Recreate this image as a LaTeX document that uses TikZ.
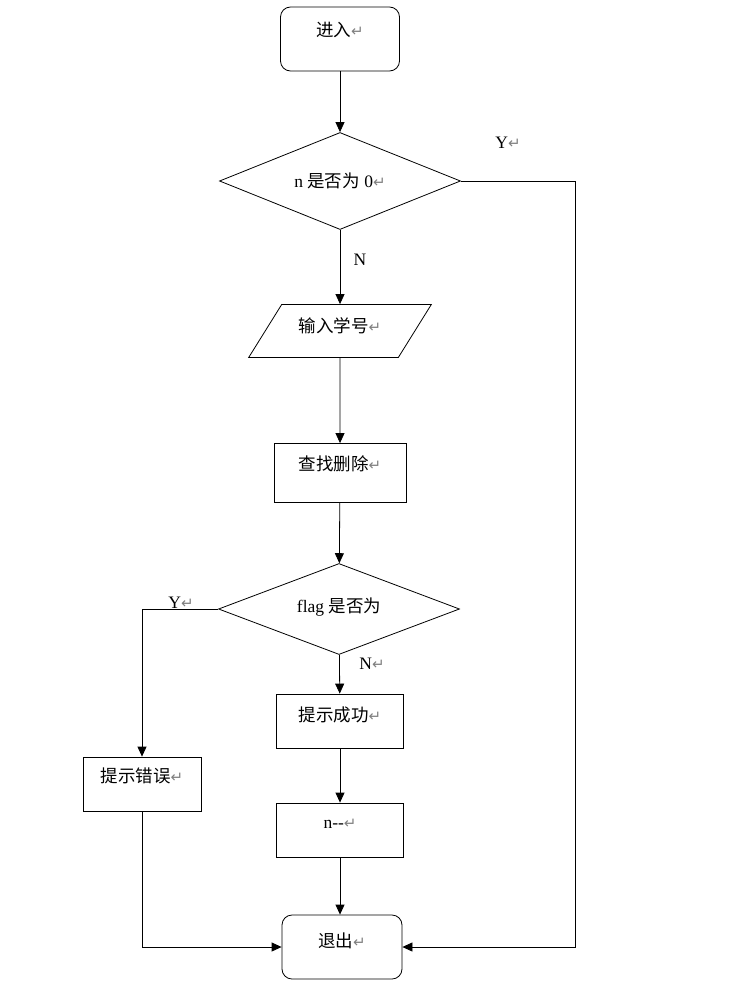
\documentclass[tikz,border=0pt]{standalone}
\usepackage{fontspec}
\setmainfont{Liberation Serif}
\newfontfamily\cjk{Noto Sans CJK SC}
\newfontfamily\symfont{DejaVu Sans}
\usetikzlibrary{shapes.geometric,arrows.meta,positioning}
\newcommand{\pmark}{{\symfont\fontsize{15}{15}\selectfont\textcolor{gray}{↵}}}

\begin{document}
\begin{tikzpicture}[x=1pt, y=-1pt, line width=0.8pt, font=\fontsize{17.5}{20}\selectfont,
  term/.style={rectangle, draw, rounded corners=10pt, minimum width=119pt, minimum height=64pt},
  proc/.style={rectangle, draw, minimum width=127pt, minimum height=54pt},
  test/.style={diamond, draw, shape aspect=2.5, minimum width=241pt, minimum height=97pt, inner sep=0pt},
  io/.style={trapezium, draw, trapezium left angle=53, trapezium right angle=127, trapezium stretches=true, minimum width=183pt, minimum height=53pt},
  flow/.style={-{Triangle[length=10pt,width=9pt]}},
  yn/.style={inner sep=0pt}]
  \useasboundingbox (0,0) rectangle (740,990);
  \node[term, text depth=20pt] (enter) at (340,39) {{\cjk 进入}\pmark};
  \node[test] (test0) at (340,181) {n {\cjk 是否为} 0\pmark};
  \node[io, text depth=12pt] (input) at (340,331) {{\cjk 输入学号}\pmark};
  \node[proc, minimum width=132pt, minimum height=59pt, text depth=20pt] (find) at (340,473) {{\cjk 查找删除}\pmark};
  \node[test, minimum height=91pt, text depth=7pt] (test1) at (339,609) {flag {\cjk 是否为}};
  \node[proc, text depth=14pt] (ok) at (340,721) {{\cjk 提示成功}\pmark};
  \node[proc, minimum width=118pt, text depth=18pt] (err) at (142,784) {{\cjk 提示错误}\pmark};
  \node[proc, text depth=12pt] (dec) at (340,830) {n{-}{-}\pmark};
  \node[term, minimum width=120pt, text depth=14pt] (quit) at (342,947) {{\cjk 退出}\pmark};
  \coordinate (yright) at (575,181);
  % labels
  \node[yn] (y0) at (508,143) {Y\pmark};
  \node[yn] (n0) at (360,260) {N};
  \node[yn] (y1) at (181,603) {Y\pmark};
  \node[yn] (n1) at (372,664) {N\pmark};
  % connectors
  \draw[flow] (enter) -- (test0);
  \draw[flow] (test0) -- (input);
  \draw[flow] (test0.east) -- (yright) |- (quit.east);
  \draw[flow] (input) -- (find);
  \draw[flow] (find) -- (test1);
  \draw[flow] (test1.west) -| (err.north);
  \draw[flow] (test1) -- (ok);
  \draw[flow] (ok) -- (dec);
  \draw[flow] (dec) -- (dec.south |- quit.north);
  \draw[flow] (err.south) |- (quit.west);
\end{tikzpicture}
\end{document}
